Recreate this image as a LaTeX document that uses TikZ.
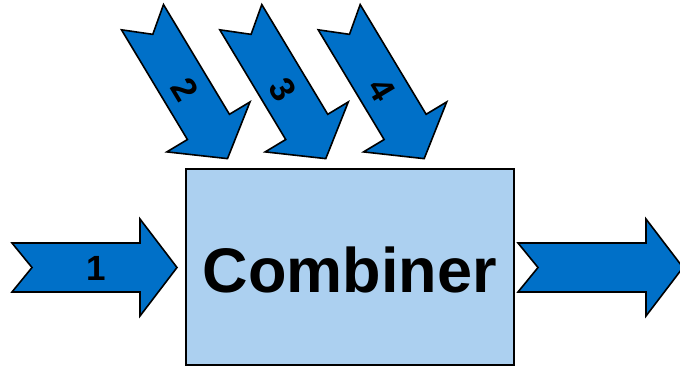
\documentclass[tikz,border=0pt]{standalone}
\usepackage{fontspec}
\setmainfont{Liberation Sans}
\definecolor{arrowblue}{RGB}{0,112,200}
\definecolor{boxblue}{RGB}{172,208,240}
\tikzset{
  arrowbody/.style={draw=black, line width=1.6pt, fill=arrowblue, line join=miter},
  digit/.style={font=\bfseries\fontsize{35}{35}\selectfont, inner sep=0pt, transform shape},
  % notched block arrow pointing along +x, tail centre at the origin
  blockarrow/.pic={
    \path[arrowbody] (0,-24.5) -- (20,0) -- (0,24.5) -- (128,24.5) -- (128,48.5)
      -- (165,0) -- (128,-48.5) -- (128,-24.5) -- cycle;
    \node[digit] (-label) at (84,1) {#1};
  },
}
\begin{document}
\begin{tikzpicture}[x=1pt,y=-1pt]
\useasboundingbox (0,0) rectangle (680,367);
\clip (0,0) rectangle (680,367);

% combiner block
\node[draw=black, line width=1.5pt, fill=boxblue, inner sep=0pt,
      minimum width=328pt, minimum height=196pt, anchor=north west]
  (combiner) at (185,168) {};
\node[font=\bfseries\fontsize{63}{63}\selectfont, inner sep=0pt]
  (combinerlabel) at ([yshift=-3.5pt]combiner.center) {Combiner};

% inputs
\pic (in1) at (12,267.5) {blockarrow=1};
\pic[rotate=-59] (in2) at (142.5,17.2) {blockarrow=2};
\pic[rotate=-59] (in3) at (240.8,17.2) {blockarrow=3};
\pic[rotate=-59] (in4) at (339.2,17.2) {blockarrow=4};

% output
\pic (out) at (518,267.5) {blockarrow={}};
\end{tikzpicture}
\end{document}
